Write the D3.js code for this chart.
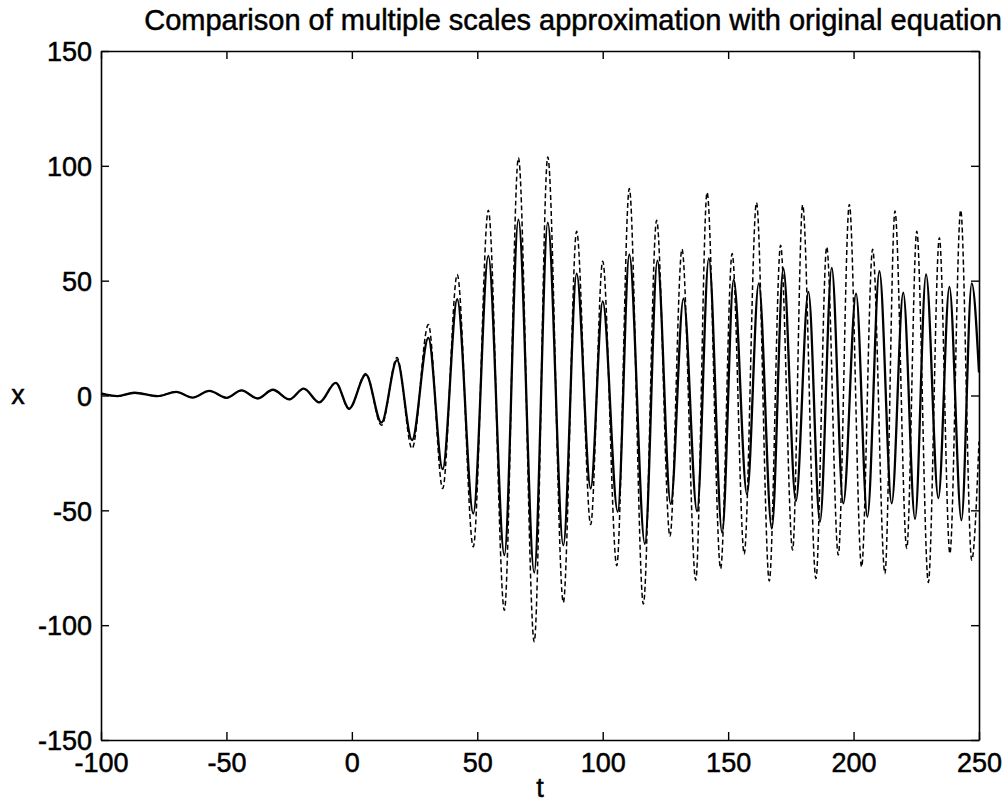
<!DOCTYPE html>
<html>
<head>
<meta charset="utf-8">
<script src="https://cdn.jsdelivr.net/npm/d3@7"></script>
<style>
  body { margin: 0; background: #fff; }
  text { font-family: "Liberation Sans", Arial, sans-serif; fill: #000; stroke: #000; stroke-width: 0.5; }
</style>
</head>
<body>
<svg></svg>
<script>
// extrema: multiple scales approximation (solid line)
let approxT = [-100, -93.4, -86.7, -77.5, -70, -63.5, -56.8, -50, -44, -37.5, -31.5, -24.9, -19.2, -13, -6.4, -1.1,
               5.6, 11.8, 18, 24, 30.5, 36.2, 42, 48.4, 54.4, 60.8, 66.4, 72.7, 78.1, 84.3, 89.6, 95.2,
               100, 106, 110.6, 116.8, 121.8, 127.1, 132.2, 137.6, 142.3, 147.6, 152.2, 157.5, 162.2, 167.4,
               172, 177, 182, 186.6, 191.3, 195.9, 201, 205.5, 210.3, 215.2, 219.8, 224.5, 228.9, 233.8,
               238.2, 243, 247.1, 250];
let approxX = [0.9, -0.3, 1.2, -0.3, 1.6, -0.9, 2, -1, 2.2, -1.3, 2.5, -1.7, 3, -3, 5.5, -5.7,
               9.1, -11.8, 15.4, -19.4, 25.1, -32.1, 41.9, -51.4, 60.8, -69.5, 76.6, -77.1, 75.3, -65.2, 53.1, -40.5,
               41, -50.6, 61.4, -64.6, 58.7, -47.2, 42.2, -50.4, 59.7, -59.7, 50.4, -43, 48.8, -57.9,
               55.3, -46, 45.1, -55, 55.6, -47, 44.4, -52.8, 54.1, -47, 44.8, -53.8, 52.7, -44.7,
               47.3, -54.3, 48.8, 10];

// original equation (dashed line)
let exactT = [-100, -93.4, -86.7, -77.5, -70, -63.5, -56.8, -50, -44, -37.5, -31.5, -24.9, -19.2, -13, -6.4, -1.1,
              5.6, 11.8, 18, 24, 30.5, 36.2, 42, 48.4, 54.4, 60.8, 66.4, 72.7, 78.1, 84.3, 89.6, 95.2,
              100, 105.6, 110.6, 116.2, 121.5, 126.8, 131.6, 137.1, 141.6, 147, 151.6, 156.4, 161.3, 166.4,
              170.9, 175.7, 179.7, 185, 189.3, 193.9, 198.3, 203.2, 207.6, 212.5, 216.5, 221.2, 225.2, 229.8,
              234.2, 238.4, 242.7, 247.1, 250];
let exactX = [0.9, -0.3, 1.2, -0.3, 1.6, -0.9, 2, -1, 2.2, -1.3, 2.5, -1.7, 3, -3, 5.6, -6,
              9.6, -13, 16.5, -23.1, 30.9, -40.5, 52.7, -65.9, 80.7, -93.5, 103.5, -107.2, 103.9, -90.1, 71.5, -56.2,
              58.5, -74.1, 90.1, -90.8, 76.3, -61.3, 63.7, -80.4, 88.4, -75.4, 61.8, -69, 84, -80.8,
              65.4, -67.3, 82.9, -79.7, 64.7, -69.5, 83.2, -74.6, 63.7, -77.5, 80.3, -66.6, 71.5, -81.4,
              68.7, -68.8, 80.7, -71.7, -20];

let xTicks = [-100, -50, 0, 50, 100, 150, 200, 250];
let yTicks = [-150, -100, -50, 0, 50, 100, 150];

let width = 1008;
let height = 802;
let padLeft = 101, padRight = 979, padTop = 51, padBottom = 740;

let svg = d3.select('svg')
    .attr('width', width)
    .attr('height', height);

let xScale = d3.scaleLinear().domain([-100, 250]).range([padLeft, padRight]);
let yScale = d3.scaleLinear().domain([-150, 150]).range([padBottom, padTop]);

// MATLAB style box: ticks pointing in on all four sides
let drawAxes = () => {
    let fmt = (d) => String(d);
    let bx = svg.append('g').attr('transform', `translate(0,${padBottom})`)
        .call(d3.axisBottom(xScale).tickValues(xTicks).tickFormat(fmt).tickSizeInner(-8).tickSizeOuter(0).tickPadding(10));
    svg.append('g').attr('transform', `translate(0,${padTop})`)
        .call(d3.axisTop(xScale).tickValues(xTicks).tickFormat('').tickSizeInner(-8).tickSizeOuter(0));
    let ly = svg.append('g').attr('transform', `translate(${padLeft},0)`)
        .call(d3.axisLeft(yScale).tickValues(yTicks).tickFormat(fmt).tickSizeInner(-8).tickSizeOuter(0).tickPadding(9));
    svg.append('g').attr('transform', `translate(${padRight},0)`)
        .call(d3.axisRight(yScale).tickValues(yTicks).tickFormat('').tickSizeInner(-8).tickSizeOuter(0));

    svg.selectAll('.domain').attr('stroke', '#000').attr('stroke-width', 1.6);
    svg.selectAll('.tick line').attr('stroke', '#000').attr('stroke-width', 1.4);
    bx.selectAll('text').attr('font-size', 27).attr('font-family', null).attr('dy', '0.8em');
    ly.selectAll('text').attr('font-size', 27).attr('font-family', null).attr('dy', '0.36em');
}

let drawLines = () => {
    let line = d3.line()
        .x((d) => xScale(d[0]))
        .y((d) => yScale(d[1]))
        .curve(d3.curveMonotoneX);

    let exact = exactT.map((t, i) => [t, exactX[i]]);
    let approx = approxT.map((t, i) => [t, approxX[i]]);

    svg.append('path')
       .datum(exact)
       .attr('d', line)
       .attr('fill', 'none')
       .attr('stroke', '#000')
       .attr('stroke-width', 1.5)
       .attr('stroke-dasharray', '5,3');

    svg.append('path')
       .datum(approx)
       .attr('d', line)
       .attr('fill', 'none')
       .attr('stroke', '#000')
       .attr('stroke-width', 2.3);
}

let drawLabels = () => {
    svg.append('text')
       .attr('x', 573)
       .attr('y', 30)
       .attr('text-anchor', 'middle')
       .attr('font-size', 29)
       .text('Comparison of multiple scales approximation with original equation');
    svg.append('text')
       .attr('x', (padLeft + padRight) / 2)
       .attr('y', 797)
       .attr('text-anchor', 'middle')
       .attr('font-size', 27)
       .text('t');
    svg.append('text')
       .attr('x', 18)
       .attr('y', yScale(0))
       .attr('dy', '0.3em')
       .attr('text-anchor', 'middle')
       .attr('font-size', 27)
       .text('x');
}

drawLines();
drawAxes();
drawLabels();
</script>
</body>
</html>
